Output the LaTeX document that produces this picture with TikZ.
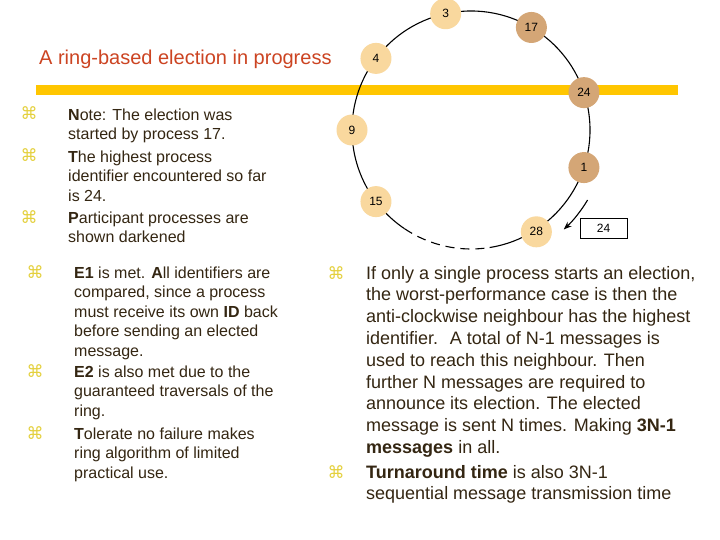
\documentclass[tikz,border=0pt]{standalone}
\usepackage{fontspec}
\setmainfont{Liberation Sans}
\newfontfamily\symfnt{DejaVu Sans}
\usetikzlibrary{arrows.meta}
\definecolor{titlecol}{RGB}{204,68,34}
\definecolor{txtcol}{RGB}{52,38,18}
\definecolor{bulcol}{RGB}{228,208,60}
\definecolor{barcol}{RGB}{255,198,0}
\definecolor{lightproc}{RGB}{249,216,158}
\definecolor{darkproc}{RGB}{212,166,118}
\tikzset{
  txtA/.style={anchor=north west, inner sep=0pt, align=left, text=txtcol, font=\fontsize{16}{19.5}\selectfont},
  txtB/.style={anchor=north west, inner sep=0pt, align=left, text=txtcol, font=\fontsize{18}{21.8}\selectfont},
  bul/.style={anchor=base, inner sep=0pt, text=bulcol, font=\symfnt\fontsize{17}{17}\selectfont},
  proc/.style={circle, minimum size=31pt, inner sep=0pt, font=\fontsize{12}{12}\selectfont},
  lp/.style={proc, fill=lightproc},
  dp/.style={proc, fill=darkproc},
  ringline/.style={line width=1.1pt, black},
}
\begin{document}
\begin{tikzpicture}[x=1pt,y=1pt]
\useasboundingbox[fill=white] (0,0) rectangle (720,-540);
% title and bar
\node[anchor=base west, inner sep=0pt, text=titlecol, font=\fontsize{20}{24}\selectfont] (title) at (39,-65) {A ring-based election in progress};
\fill[barcol] (36,-85) rectangle (678,-95);
% ring
\coordinate (ring) at (471,-130);
\draw[ringline] ([shift={(279:119)}]ring) arc[start angle=279, end angle=596, radius=119];
\draw[ringline, dash pattern=on 9pt off 6pt] ([shift={(236:119)}]ring) arc[start angle=236, end angle=279, radius=119];
\node[lp] (n3) at ([shift={(102.3:119)}]ring) {3};
\node[dp] (n17) at ([shift={(59.5:119)}]ring) {17};
\node[lp] (n4) at ([shift={(143:119)}]ring) {4};
\node[dp] (n24) at ([shift={(18.3:119)}]ring) {24};
\node[lp] (n9) at ([shift={(180:119)}]ring) {9};
\node[dp] (n1) at ([shift={(-18.4:119)}]ring) {1};
\node[lp] (n15) at ([shift={(217:119)}]ring) {15};
\node[lp] (n28) at ([shift={(-57.3:121)}]ring) {28};
\draw[line width=1.1pt, -{Stealth[length=8pt,width=6pt]}] ([shift={(-31:136)}]ring) arc[start angle=-31, end angle=-47, radius=136];
\node[draw=black, line width=0.8pt, fill=white, minimum width=47pt, minimum height=20pt, inner sep=0pt, font=\fontsize{12}{12}\selectfont] (msg) at (603.5,-228) {24};
% left column 1
\node[bul] (b1) at (29,-120) {⌘};
\node[txtA] (t1) at (68,-108.3) {\textbf{N}ote: The election was\\started by process 17.};
\node[bul] (b2) at (29,-162) {⌘};
\node[txtA] (t2) at (68,-150.3) {\textbf{T}he highest process\\identifier encountered so far\\is 24.};
\node[bul] (b3) at (29,-223) {⌘};
\node[txtA] (t3) at (68,-211.3) {\textbf{P}articipant processes are\\shown darkened};
% left column 2
\node[bul] (b4) at (35,-278) {⌘};
\node[txtA] (t4) at (74,-266.3) {\textbf{E1} is met. \textbf{A}ll identifiers are\\compared, since a process\\must receive its own \textbf{ID} back\\before sending an elected\\message.};
\node[bul] (b5) at (35,-377) {⌘};
\node[txtA] (t5) at (74,-365.3) {\textbf{E2} is also met due to the\\guaranteed traversals of the\\ring.};
\node[bul] (b6) at (35,-439) {⌘};
\node[txtA] (t6) at (74,-427.3) {\textbf{T}olerate no failure makes\\ring algorithm of limited\\practical use.};
% right column
\node[bul] (b7) at (336,-279) {⌘};
\node[txtB] (t7) at (366,-265.9) {If only a single process starts an election,\\the worst-performance case is then the\\anti-clockwise neighbour has the highest\\identifier.~ A total of N-1 messages is\\used to reach this neighbour. Then\\further N messages are required to\\announce its election. The elected\\message is sent N times. Making \textbf{3N-1}\\\textbf{messages} in all.};
\node[bul] (b8) at (336,-478) {⌘};
\node[txtB] (t8) at (366,-464.9) {\textbf{Turnaround time} is also 3N-1\\sequential message transmission time};
\end{tikzpicture}
\end{document}
